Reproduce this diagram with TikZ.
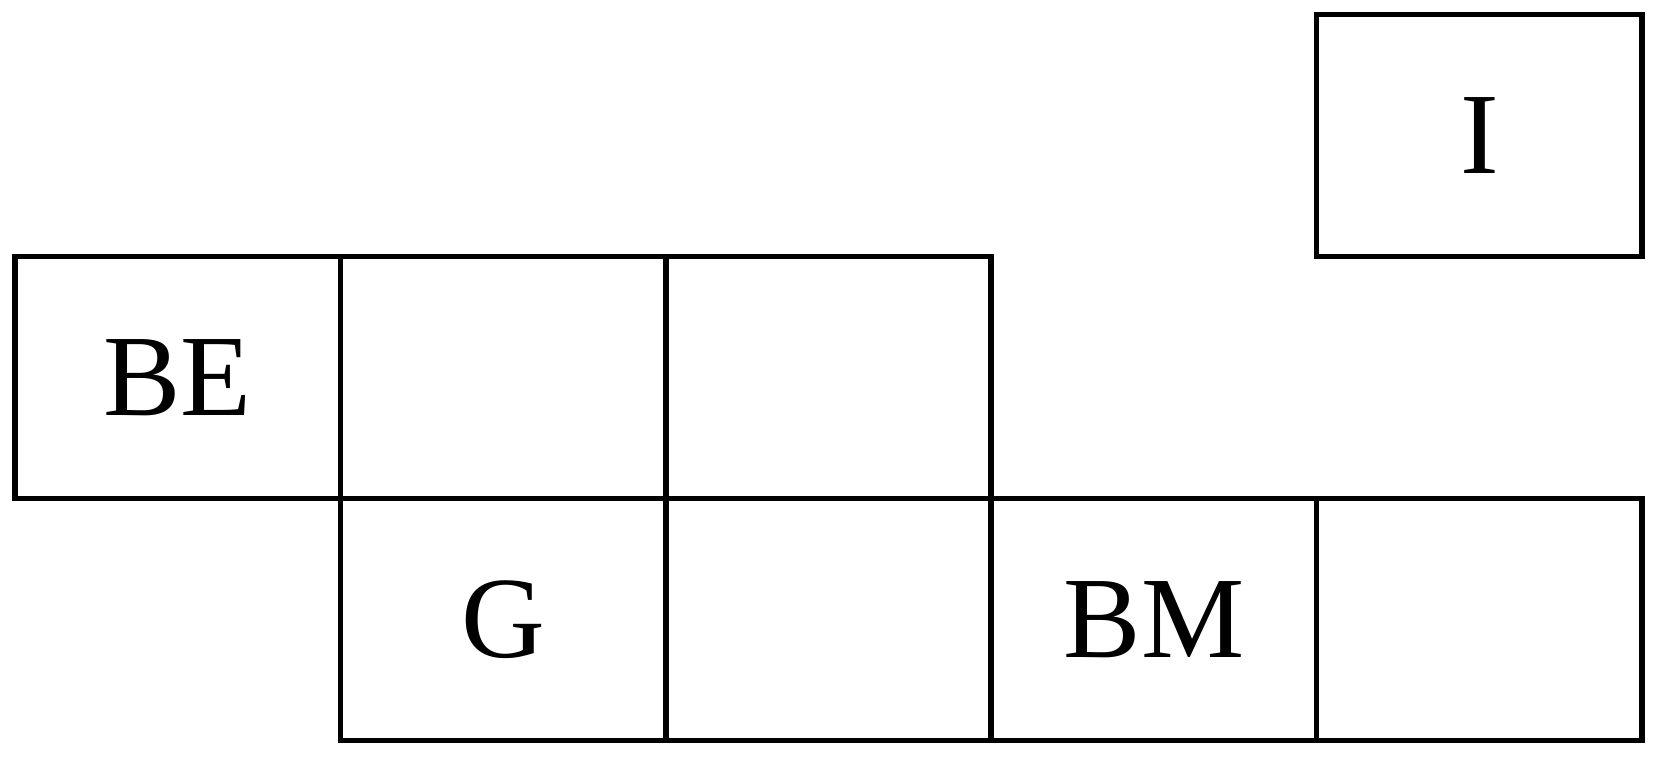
\documentclass[tikz,border=0pt]{standalone}
\usepackage{fontspec}
\setmainfont{Liberation Serif}
\begin{document}
\begin{tikzpicture}[x=1pt,y=-1pt,
  cell/.style={draw=black,line width=5.5pt,minimum width=325.4pt,minimum height=242pt,inner sep=0pt,outer sep=0pt,font=\fontsize{116}{116}\selectfont,text=black}]
\useasboundingbox[fill=white] (0,0) rectangle (1658,758);
\node[cell] (I) at (1479.3,135.5) {I};
\node[cell] (BE) at (177.7,377.5) {BE};
\node[cell] (r2c2) at (503.1,377.5) {};
\node[cell] (r2c3) at (828.5,377.5) {};
\node[cell] (G) at (503.1,619.5) {G};
\node[cell] (r3c3) at (828.5,619.5) {};
\node[cell] (BM) at (1153.9,619.5) {BM};
\node[cell] (r3c5) at (1479.3,619.5) {};
\end{tikzpicture}
\end{document}
